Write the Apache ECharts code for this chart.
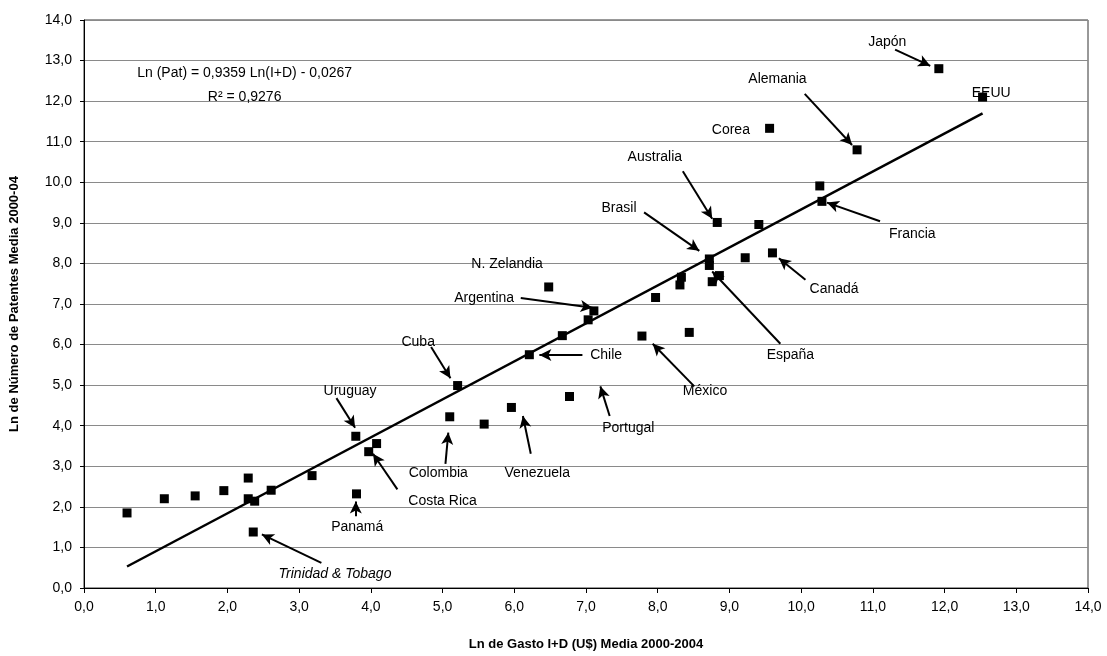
<!DOCTYPE html>
<html><head><meta charset="utf-8">
<script src="https://cdn.jsdelivr.net/npm/echarts@6/dist/echarts.min.js"></script>
<style>html,body{margin:0;padding:0;background:#fff}#c{width:1107px;height:656px}</style>
</head><body><div id="c"></div>
<script>
// Country points: Ln I+D spending (x), Ln patents (y)
const pointX = [0.60,1.12,1.55,1.95,2.29,2.29,2.38,2.61,3.18,3.79,3.97,4.08,3.80,2.36,5.10,5.21,5.58,5.96,6.21,6.67,6.77,6.48,7.03,7.11,7.78,7.97,8.44,8.33,8.31,8.72,8.72,8.86,8.76,9.22,9.60,8.83,9.41,10.26,10.29,10.78,9.56,11.92,12.53];
const pointY = [1.85,2.20,2.27,2.40,2.71,2.20,2.14,2.41,2.77,3.74,3.36,3.56,2.32,1.38,4.22,4.99,4.04,4.45,5.75,6.22,4.72,7.42,6.61,6.83,6.21,7.16,6.30,7.66,7.47,8.11,7.95,7.70,7.55,8.14,8.26,9.01,8.96,9.91,9.53,10.80,11.33,12.80,12.10];
// Regression line endpoints
const trendX = [0.60, 12.53];
const trendY = [0.53, 11.70];
// Country labels
const labelNames = ['Japón','Alemania','EEUU','Corea','Australia','Brasil','N. Zelandia','Argentina','Francia','Canadá','Cuba','Chile','España','México','Uruguay','Portugal','Colombia','Venezuela','Costa Rica','Panamá','Trinidad & Tobago'];
const labelX = [11.20,9.67,12.65,9.02,7.96,7.46,5.90,5.58,11.55,10.46,4.66,7.28,9.85,8.66,3.71,7.59,4.94,6.32,5.00,3.81,3.50];
const labelY = [13.45,12.53,12.20,11.29,10.61,9.37,7.99,7.15,8.73,7.36,6.06,5.74,5.74,4.85,4.85,3.95,2.84,2.84,2.15,1.50,0.35];
// Arrows: from (x1,y1) to (x2,y2)
const arrowX1 = [11.31,10.05,8.35,7.81,6.09,11.10,10.06,4.84,6.95,9.71,8.51,3.52,7.33,5.04,6.23,4.37,3.79,3.31];
const arrowY1 = [13.27,12.18,10.27,9.26,7.15,9.04,7.60,5.94,5.74,6.02,4.97,4.68,4.24,3.06,3.31,2.43,1.77,0.62];
const arrowX2 = [11.80,10.71,8.76,8.58,7.09,10.36,9.69,5.11,6.35,8.76,7.93,3.78,7.20,5.08,6.12,4.03,3.79,2.48];
const arrowY2 = [12.87,10.92,9.10,8.31,6.91,9.50,8.13,5.17,5.74,7.80,6.02,3.95,4.97,3.83,4.24,3.31,2.13,1.32];
const eqLines = ['Ln (Pat) = 0,9359 Ln(I+D) - 0,0267', 'R² = 0,9276'];
const eqX = [2.24, 2.24];
const eqY = [12.69, 12.10];
const xTitle = 'Ln de Gasto I+D (U$) Media 2000-2004';
const yTitle = 'Ln de Número de Patentes Media 2000-04';

const FONT = 'Liberation Sans, Arial, sans-serif';
const fmt = v => v.toFixed(1).replace('.', ',');

const chart = echarts.init(document.getElementById('c'));
const pts = pointX.map((x,i)=>[x, pointY[i]]);
const labs = labelNames.map((n,i)=>({value:[labelX[i],labelY[i]], name:n,
  label: n === 'Trinidad & Tobago' ? {fontStyle:'italic'} : undefined}));
const arrows = arrowX1.map((x,i)=>[{coord:[x,arrowY1[i]]},{coord:[arrowX2[i],arrowY2[i]]}]);
const eqs = eqLines.map((t,i)=>({value:[eqX[i],eqY[i]], name:t}));

chart.setOption({
  animation:false,
  grid:{left:82,right:19,top:20,bottom:60,show:true,borderColor:'#333',borderWidth:1},
  xAxis:{type:'value',min:0,max:14,interval:1,
    name:xTitle,nameLocation:'middle',nameGap:50,
    nameTextStyle:{fontFamily:FONT,fontSize:13,fontWeight:'bold',color:'#000'},
    axisLine:{show:true,lineStyle:{color:'#000',width:1}},
    axisTick:{show:true,length:5,lineStyle:{color:'#000'}},
    axisLabel:{formatter:fmt,fontFamily:FONT,fontSize:14,color:'#000',margin:12},
    splitLine:{show:false}},
  yAxis:{type:'value',min:0,max:14,interval:1,
    name:yTitle,nameLocation:'middle',nameGap:63,
    nameTextStyle:{fontFamily:FONT,fontSize:13,fontWeight:'bold',color:'#000'},
    axisLine:{show:true,lineStyle:{color:'#000',width:1}},
    axisTick:{show:true,length:4,lineStyle:{color:'#000'}},
    axisLabel:{formatter:fmt,fontFamily:FONT,fontSize:14,color:'#000',margin:12},
    splitLine:{show:true,lineStyle:{color:'#8a8a8a',width:1}}},
  series:[
    {type:'line',data:trendX.map((x,i)=>[x,trendY[i]]),symbol:'none',
     lineStyle:{color:'#000',width:2.5},z:3},
    {type:'scatter',data:pts,symbol:'rect',symbolSize:9,itemStyle:{color:'#000',opacity:1},z:4},
    {type:'scatter',data:labs,symbolSize:0,z:5,itemStyle:{opacity:1},
     label:{show:true,position:'inside',formatter:p=>p.name,fontFamily:FONT,fontSize:14,color:'#000'},
     markLine:{silent:true,symbol:['none','arrow'],symbolSize:[9,12],
       lineStyle:{color:'#000',width:2,type:'solid',opacity:1},label:{show:false},data:arrows}},
    {type:'scatter',data:eqs,symbolSize:0,z:5,itemStyle:{opacity:1},
     label:{show:true,position:'inside',formatter:p=>p.name,fontFamily:FONT,fontSize:14,color:'#000'}}
  ]
});
</script></body></html>
